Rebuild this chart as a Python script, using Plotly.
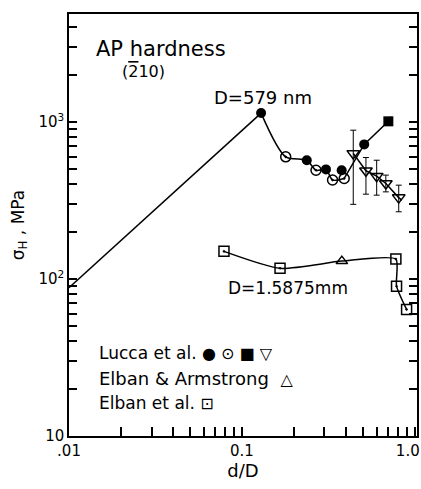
import plotly.graph_objects as go

# ---- data ----
# straight line for small indents (d/D from 0.01 to the peak)
lin_x = [0.01, 0.129]
lin_y = [88, 1140]

# Lucca et al. filled circles
lf_x = [0.129, 0.237, 0.306, 0.377, 0.509]
lf_y = [1140, 571, 499, 493, 720]
# Lucca et al. open (dotted) circles
lo_x = [0.179, 0.268, 0.334, 0.390]
lo_y = [600, 493, 427, 437]
# Lucca et al. filled square
ls_x = [0.702]
ls_y = [1010]
# curve through the Lucca circle data (D = 579 nm)
curve_x = [0.129, 0.179, 0.237, 0.268, 0.306, 0.334, 0.390]
curve_y = [1140, 600, 571, 493, 499, 427, 437]
rise_x = [0.390, 0.509, 0.702, 0.73]
rise_y = [437, 720, 1010, 1080]

# Lucca et al. open down-triangles with error bars
lt_x = [0.440, 0.521, 0.601, 0.679, 0.806]
lt_y = [631, 489, 452, 406, 330]
lt_hi = [887, 594, 571, 459, 396]
lt_lo = [299, 347, 342, 359, 268]
tline_x = [0.440, 0.521, 0.601, 0.679, 0.806, 0.84]
tline_y = [631, 489, 452, 406, 330, 318]

# D = 1.5875 mm series
ea_x = [0.378]           # Elban & Armstrong (triangle)
ea_y = [130]
eb_x = [0.0787, 0.166, 0.776, 0.783, 0.895]   # Elban et al. (dotted squares)
eb_y = [150, 117, 134, 90, 64]
mm_x = [0.0787, 0.166, 0.378, 0.776, 0.783, 0.895]
mm_y = [150, 117, 130, 134, 90, 64]

x_major = [0.01, 0.1, 1.0]
x_major_text = [".01", "0.1", "1.0\u00a0\u00a0\u00a0"]
y_major = [10, 100, 1000]
y_major_text = ["10", "10<sup>2</sup>", "10<sup>3</sup>"]

FONT = "DejaVu Sans"
LW = 1.5

fig = go.Figure()

fig.add_trace(go.Scatter(x=lin_x, y=lin_y, mode="lines",
                         line=dict(color="black", width=LW)))
fig.add_trace(go.Scatter(x=curve_x, y=curve_y, mode="lines",
                         line=dict(color="black", width=LW, shape="spline", smoothing=0.8)))
fig.add_trace(go.Scatter(x=rise_x, y=rise_y, mode="lines",
                         line=dict(color="black", width=LW)))
fig.add_trace(go.Scatter(x=tline_x, y=tline_y, mode="lines",
                         line=dict(color="black", width=LW)))
fig.add_trace(go.Scatter(x=mm_x, y=mm_y, mode="lines",
                         line=dict(color="black", width=LW, shape="spline", smoothing=0.6)))

# markers
fig.add_trace(go.Scatter(x=lt_x, y=lt_y, mode="markers",
                         marker=dict(symbol="triangle-down-open", size=11, color="black",
                                     line=dict(width=1.5)),
                         error_y=dict(type="data", symmetric=False,
                                      array=[h - v for h, v in zip(lt_hi, lt_y)],
                                      arrayminus=[v - l for l, v in zip(lt_lo, lt_y)],
                                      color="black", thickness=1, width=3)))
fig.add_trace(go.Scatter(x=lo_x, y=lo_y, mode="markers",
                         marker=dict(symbol="circle-open-dot", size=10, color="black",
                                     line=dict(width=1.5))))
fig.add_trace(go.Scatter(x=lf_x, y=lf_y, mode="markers",
                         marker=dict(symbol="circle", size=10, color="black")))
fig.add_trace(go.Scatter(x=ls_x, y=ls_y, mode="markers",
                         marker=dict(symbol="square", size=10, color="black")))
fig.add_trace(go.Scatter(x=ea_x, y=ea_y, mode="markers",
                         marker=dict(symbol="triangle-up-open", size=10, color="black",
                                     line=dict(width=1.5))))
fig.add_trace(go.Scatter(x=eb_x, y=eb_y, mode="markers",
                         marker=dict(symbol="square-open-dot", size=10, color="black",
                                     line=dict(width=1.5))))

# all ticks (major labelled, minor with a blank label)
x_tickvals, x_ticktext = [], []
for k in (-2, -1, 0):
    for m in range(1, 10):
        v = m * 10 ** k
        if v > 1.0001:
            break
        x_tickvals.append(v)
        x_ticktext.append(x_major_text[x_major.index(v)] if m == 1 else " ")
y_tickvals, y_ticktext = [], []
for k in (1, 2, 3):
    for m in range(1, 10):
        v = m * 10 ** k
        if v > 5000:
            break
        y_tickvals.append(v)
        y_ticktext.append(y_major_text[y_major.index(v)] if m == 1 else " ")

fig.update_xaxes(type="log", range=[-2, 0.012], tickmode="array",
                 tickvals=x_tickvals, ticktext=x_ticktext, tickangle=0,
                 ticks="inside", ticklen=9, tickwidth=1.5, tickcolor="#000000",
                 ticklabeloverflow="allow",
                 showline=True, linecolor="black", linewidth=1.5, mirror=True,
                 showgrid=False, zeroline=False, automargin=False,
                 tickfont=dict(family=FONT, size=15, color="black"),
                 title=dict(text="d/D", font=dict(family=FONT, size=18, color="black"), standoff=4))
fig.update_yaxes(type="log", range=[1, 3.688], tickmode="array",
                 tickvals=y_tickvals, ticktext=y_ticktext, tickangle=0,
                 ticks="inside", ticklen=8, tickwidth=1.5, tickcolor="#000000",
                 showline=True, linecolor="black", linewidth=1.5, mirror="ticks",
                 showgrid=False, zeroline=False, automargin=False,
                 tickfont=dict(family=FONT, size=15, color="black"),
                 title=dict(text="σ<sub>H</sub> , MPa", font=dict(family=FONT, size=17, color="black"),
                            standoff=10))

SYM = "<span style='font-size:16px'>{}</span>"
ann = [
    dict(text="AP hardness", x=0.075, y=0.918, size=21, xanchor="left"),
    dict(text="(<span style='text-decoration:overline'>2</span>10)", x=0.2155, y=0.864, size=16,
         xanchor="center"),
    dict(text="D=579 nm", x=0.414, y=0.803, size=18, xanchor="left"),
    dict(text="D=1.5875mm", x=0.454, y=0.351, size=17, xanchor="left"),
    dict(text="Lucca et al. " + SYM.format("● ⊙ ■ ▽"), x=0.083, y=0.197, size=17, xanchor="left"),
    dict(text="Elban & Armstrong  " + SYM.format("△"), x=0.083, y=0.137, size=18, xanchor="left"),
    dict(text="Elban et al. " + SYM.format("⊡"), x=0.083, y=0.078, size=17, xanchor="left"),
]
for a in ann:
    fig.add_annotation(text=a["text"], x=a["x"], y=a["y"], xref="paper", yref="paper",
                       xanchor=a["xanchor"], yanchor="middle", showarrow=False,
                       borderpad=0,
                       font=dict(family=FONT, size=a["size"], color="black"))

fig.update_layout(width=421, height=489, margin=dict(l=69, r=4, t=14, b=53),
                  plot_bgcolor="white", paper_bgcolor="white", showlegend=False)

fig.write_html("out.html", config={"displayModeBar": False},
               post_script="document.body.style.margin='0';document.body.style.padding='0';")
